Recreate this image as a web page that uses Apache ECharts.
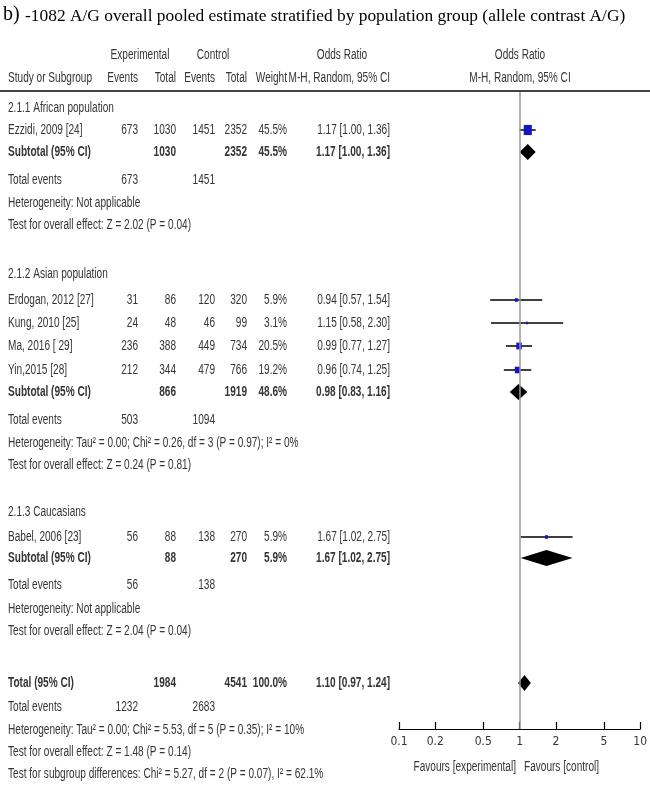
<!DOCTYPE html>
<html><head><meta charset="utf-8">
<script src="https://cdn.jsdelivr.net/npm/echarts@6/dist/echarts.min.js"></script>
<style>html,body{margin:0;padding:0;background:#fff}#c{width:650px;height:788px}</style>
</head><body><div id="c"></div>
<script>
// ---------------- DATA ----------------
const titleLead = 'b)';
const titleText = '-1082 A/G overall pooled estimate stratified by population group (allele contrast A/G)';

const studyLabels = ['Ezzidi, 2009 [24]', 'Erdogan, 2012 [27]', 'Kung, 2010 [25]', 'Ma, 2016 [ 29]', 'Yin,2015 [28]', 'Babel, 2006 [23]'];
const expEvents = [673, 31, 24, 236, 212, 56];
const expTotal = [1030, 86, 48, 388, 344, 88];
const ctlEvents = [1451, 120, 46, 449, 479, 138];
const ctlTotal = [2352, 320, 99, 734, 766, 270];
const studyWeight = [45.5, 5.9, 3.1, 20.5, 19.2, 5.9];
const studyOR = [1.17, 0.94, 1.15, 0.99, 0.96, 1.67];
const studyLow = [1.00, 0.57, 0.58, 0.77, 0.74, 1.02];
const studyHigh = [1.36, 1.54, 2.30, 1.27, 1.25, 2.75];

const groupNames = ['2.1.1 African population', '2.1.2 Asian population', '2.1.3 Caucasians'];
const groupExpTotal = [1030, 866, 88];
const groupCtlTotal = [2352, 1919, 270];
const groupWeight = [45.5, 48.6, 5.9];
const groupOR = [1.17, 0.98, 1.67];
const groupLow = [1.00, 0.83, 1.02];
const groupHigh = [1.36, 1.16, 2.75];
const groupExpEvents = [673, 503, 56];
const groupCtlEvents = [1451, 1094, 138];
const groupHet = ['Heterogeneity: Not applicable',
  'Heterogeneity: Tau\u00b2 = 0.00; Chi\u00b2 = 0.26, df = 3 (P = 0.97); I\u00b2 = 0%',
  'Heterogeneity: Not applicable'];
const groupTest = ['Test for overall effect: Z = 2.02 (P = 0.04)',
  'Test for overall effect: Z = 0.24 (P = 0.81)',
  'Test for overall effect: Z = 2.04 (P = 0.04)'];

const overallExpTotal = 1984, overallCtlTotal = 4541, overallWeight = 100.0;
const overallOR = 1.10, overallLow = 0.97, overallHigh = 1.24;
const overallExpEvents = 1232, overallCtlEvents = 2683;
const overallHet = 'Heterogeneity: Tau\u00b2 = 0.00; Chi\u00b2 = 5.53, df = 5 (P = 0.35); I\u00b2 = 10%';
const overallTest = 'Test for overall effect: Z = 1.48 (P = 0.14)';
const subgroupTest = 'Test for subgroup differences: Chi\u00b2 = 5.27, df = 2 (P = 0.07), I\u00b2 = 62.1%';

const tickValues = [0.1, 0.2, 0.5, 1, 2, 5, 10];
const favourLeft = 'Favours [experimental]';
const favourRight = 'Favours [control]';

// ---------------- LAYOUT ----------------
const studyGroup = [0, 1, 1, 1, 1, 2];
const rowY = {
  head: [108, 274, 512],
  study: [130, 300, 323, 346, 370, 537],
  subtotal: [152, 392, 558],
  events: [180, 420, 585],
  het: [203, 443, 609],
  test: [225, 465, 631],
  total: 683, totalEvents: 707, totalHet: 730, totalTest: 752, subgroup: 774
};
const colX = {name: 8, expEv: 138, expTot: 176, ctlEv: 215, ctlTot: 247, weight: 287, or: 390, plot: 520};
const FONT = '"Liberation Sans",Arial,sans-serif';
const FS = 14;
const SX = 0.72;
const TXT = '#353535';

const L10 = Math.log10;
const fmtW = w => w.toFixed(1) + '%';
const fmtOR = (o, l, h) => o.toFixed(2) + ' [' + l.toFixed(2) + ', ' + h.toFixed(2) + ']';

const G = [];
function t(x, y, s, align, bold) {
  G.push({type: 'text', x: x, y: y, scaleX: SX, silent: true,
    style: {text: String(s), x: 0, y: 0, font: (bold ? 'bold ' : '') + FS + 'px ' + FONT, fill: TXT,
      textAlign: align || 'left', textVerticalAlign: 'middle'}});
}
// title
G.push({type: 'text', x: 3, y: 15, style: {text: titleLead, font: '20px "Liberation Serif",serif', fill: '#000', textVerticalAlign: 'middle'}});
G.push({type: 'text', x: 25, y: 16, style: {text: titleText, font: '17.4px "Liberation Serif",serif', fill: '#000', textVerticalAlign: 'middle'}});
// headers
const h1 = 55, h2 = 78;
t(140, h1, 'Experimental', 'center'); t(213, h1, 'Control', 'center');
t(342, h1, 'Odds Ratio', 'center'); t(colX.plot, h1, 'Odds Ratio', 'center');
t(colX.name, h2, 'Study or Subgroup'); t(colX.expEv, h2, 'Events', 'right'); t(colX.expTot, h2, 'Total', 'right');
t(colX.ctlEv, h2, 'Events', 'right'); t(colX.ctlTot, h2, 'Total', 'right'); t(colX.weight, h2, 'Weight', 'right');
t(colX.or, h2, 'M-H, Random, 95% CI', 'right'); t(colX.plot, h2, 'M-H, Random, 95% CI', 'center');
G.push({type: 'line', shape: {x1: 0, y1: 91, x2: 650, y2: 91}, style: {stroke: '#444', lineWidth: 2}});

// groups
groupNames.forEach((g, gi) => {
  t(colX.name, rowY.head[gi], g);
  studyLabels.forEach((s, i) => {
    if (studyGroup[i] !== gi) return;
    const y = rowY.study[i];
    t(colX.name, y, s); t(colX.expEv, y, expEvents[i], 'right'); t(colX.expTot, y, expTotal[i], 'right');
    t(colX.ctlEv, y, ctlEvents[i], 'right'); t(colX.ctlTot, y, ctlTotal[i], 'right');
    t(colX.weight, y, fmtW(studyWeight[i]), 'right'); t(colX.or, y, fmtOR(studyOR[i], studyLow[i], studyHigh[i]), 'right');
  });
  const ys = rowY.subtotal[gi];
  t(colX.name, ys, 'Subtotal (95% CI)', 'left', true); t(colX.expTot, ys, groupExpTotal[gi], 'right', true);
  t(colX.ctlTot, ys, groupCtlTotal[gi], 'right', true); t(colX.weight, ys, fmtW(groupWeight[gi]), 'right', true);
  t(colX.or, ys, fmtOR(groupOR[gi], groupLow[gi], groupHigh[gi]), 'right', true);
  t(colX.name, rowY.events[gi], 'Total events'); t(colX.expEv, rowY.events[gi], groupExpEvents[gi], 'right');
  t(colX.ctlEv, rowY.events[gi], groupCtlEvents[gi], 'right');
  t(colX.name, rowY.het[gi], groupHet[gi]);
  t(colX.name, rowY.test[gi], groupTest[gi]);
});
t(colX.name, rowY.total, 'Total (95% CI)', 'left', true); t(colX.expTot, rowY.total, overallExpTotal, 'right', true);
t(colX.ctlTot, rowY.total, overallCtlTotal, 'right', true); t(colX.weight, rowY.total, fmtW(overallWeight), 'right', true);
t(colX.or, rowY.total, fmtOR(overallOR, overallLow, overallHigh), 'right', true);
t(colX.name, rowY.totalEvents, 'Total events'); t(colX.expEv, rowY.totalEvents, overallExpEvents, 'right');
t(colX.ctlEv, rowY.totalEvents, overallCtlEvents, 'right');
t(colX.name, rowY.totalHet, overallHet);
t(colX.name, rowY.totalTest, overallTest);
t(colX.name, rowY.subgroup, subgroupTest);
t(516, 767, favourLeft, 'right'); t(524, 767, favourRight, 'left');

// forest data
const studyData = studyLabels.map((s, i) => [L10(studyOR[i]), L10(studyLow[i]), L10(studyHigh[i]), rowY.study[i], studyWeight[i]]);
const diamondData = groupNames.map((g, i) => [L10(groupOR[i]), L10(groupLow[i]), L10(groupHigh[i]), rowY.subtotal[i]]);
diamondData.push([L10(overallOR), L10(overallLow), L10(overallHigh), rowY.total]);

const chart = echarts.init(document.getElementById('c'), null, {renderer: 'canvas'});
chart.setOption({
  animation: false,
  backgroundColor: '#fff',
  grid: {left: 399, right: 9, top: 92, bottom: 59},
  xAxis: {
    type: 'value', min: -1, max: 1,
    splitLine: {show: false},
    axisLine: {show: true, onZero: false, lineStyle: {color: '#000', width: 1.2}},
    axisTick: {show: true, inside: true, length: 7, lineStyle: {color: '#000', width: 1.2},
      customValues: tickValues.map(L10)},
    axisLabel: {show: true, margin: 7, color: TXT, fontFamily: '"DejaVu Sans Condensed",sans-serif', fontSize: 12,
      customValues: tickValues.map(L10),
      formatter: v => { const tv = tickValues.find(q => Math.abs(L10(q) - v) < 1e-6); return tv === undefined ? '' : String(tv); }}
  },
  yAxis: {type: 'value', inverse: true, min: 92, max: 729, show: false, splitLine: {show: false}},
  graphic: {elements: G},
  series: [
    {
      type: 'custom', name: 'studies', data: studyData, z: 3,
      renderItem: (params, api) => {
        const y = api.value(3);
        const c = api.coord([api.value(0), y]);
        const lo = api.coord([api.value(1), y]);
        const hi = api.coord([api.value(2), y]);
        const hgt = 1.5 * Math.sqrt(api.value(4));
        const wid = hgt * 0.8;
        return {type: 'group', children: [
          {type: 'line', shape: {x1: lo[0], y1: lo[1], x2: hi[0], y2: hi[1]}, style: {stroke: '#000', lineWidth: 1.5}},
          {type: 'rect', shape: {x: c[0] - wid / 2, y: c[1] - hgt / 2, width: wid, height: hgt}, style: {fill: '#1414c8'}}
        ]};
      }
    },
    {
      type: 'custom', name: 'diamonds', data: diamondData, z: 3,
      renderItem: (params, api) => {
        const y = api.value(3);
        const c = api.coord([api.value(0), y]);
        const lo = api.coord([api.value(1), y]);
        const hi = api.coord([api.value(2), y]);
        const hh = 8;
        return {type: 'polygon', shape: {points: [[lo[0], c[1]], [c[0], c[1] - hh], [hi[0], c[1]], [c[0], c[1] + hh]]}, style: {fill: '#000'}};
      },
      markLine: {silent: true, symbol: 'none', label: {show: false},
        lineStyle: {color: '#999', width: 1.5, type: 'solid'}, data: [{xAxis: 0}]}
    }
  ]
});
</script></body></html>
